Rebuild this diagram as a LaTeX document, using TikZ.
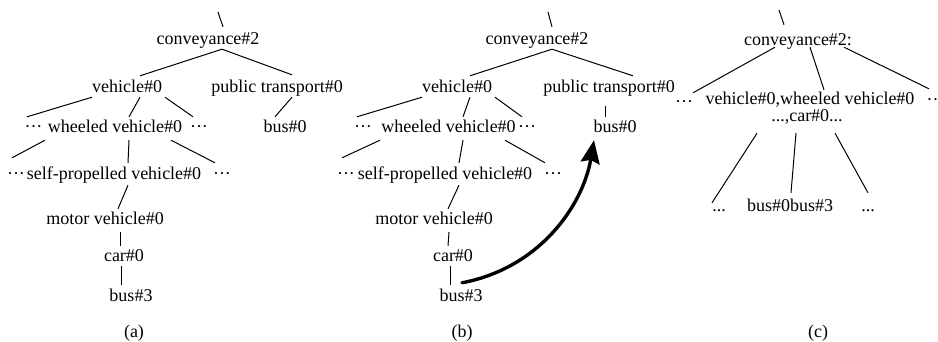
\documentclass[tikz,border=0pt]{standalone}
\usepackage{fontspec}
\setmainfont{Liberation Serif}
\usetikzlibrary{calc,arrows.meta}
\begin{document}
\begin{tikzpicture}[x=1pt,y=-1pt,
  every node/.style={inner sep=0pt, text height=11pt, text depth=3pt,
    font=\fontsize{18}{21}\selectfont},
  edge/.style={line width=1pt},
  jump/.style={line width=3.4pt, line cap=round,
    -{Stealth[length=23pt,width=19pt,inset=3pt]}}]
\useasboundingbox (0,0) rectangle (938,341);

% ---------- tree (a) ----------
\coordinate (top_a) at (218,12);
\node (conv_a) at (208,40) {conveyance\#2};
\node (veh_a)  at (127,88) {vehicle\#0};
\node (pt_a)   at (277,88) {public transport\#0};
\node (dl_a)   at (33.5,128) {···};
\node (wv_a)   at (115,128) {wheeled vehicle\#0};
\node (dr_a)   at (199,128) {···};
\node (bus0_a) at (285,128) {bus\#0};
\node (dl2_a)  at (16,175) {···};
\node (spv_a)  at (114,175) {self-propelled vehicle\#0};
\node (dr2_a)  at (222,175) {···};
\node (mv_a)   at (105,220) {motor vehicle\#0};
\node (car_a)  at (124,257) {car\#0};
\node (bus3_a) at (131,297) {bus\#3};
\node (cap_a)  at (134,333) {(a)};

\draw[edge] (top_a) -- ($(conv_a.north)+(15,-6)$);
\draw[edge] ($(conv_a.south)+(14,2)$) -- ($(veh_a.north)+(13,-5)$);
\draw[edge] ($(conv_a.south)+(14,2)$) -- ($(pt_a.north)+(15,-6)$);
\draw[edge] ($(veh_a.south)+(-35,2)$) -- ($(dl_a.north)+(-6.5,-4)$);
\draw[edge] ($(veh_a.south)+(13,2)$) -- ($(wv_a.north)+(14,-4)$);
\draw[edge] ($(veh_a.south)+(38,2)$) -- ($(dr_a.north)+(-6,-4)$);
\draw[edge] ($(pt_a.south)+(15,2)$) -- ($(bus0_a.north)+(-10,-4)$);
\draw[edge] ($(wv_a.south)+(-70,5)$) -- ($(dl2_a.north)+(-4,-10)$);
\draw[edge] ($(wv_a.south)+(14,5)$) -- ($(spv_a.north)+(14,-5)$);
\draw[edge] ($(wv_a.south)+(56,5)$) -- ($(dr2_a.north)+(-7,-5)$);
\draw[edge] ($(spv_a.south)+(14,3)$) -- ($(mv_a.north)+(13,-4)$);
\draw[edge] ($(mv_a.south)+(15,5)$) -- ($(car_a.north)+(-4,-4)$);
\draw[edge] ($(car_a.south)+(-3,2)$) -- ($(bus3_a.north)+(-10,-5)$);

% ---------- tree (b) ----------
\coordinate (top_b) at (548,12);
\node (conv_b) at (537,40) {conveyance\#2};
\node (veh_b)  at (457,88) {vehicle\#0};
\node (pt_b)   at (609,88) {public transport\#0};
\node (dl_b)   at (363,128) {···};
\node (wv_b)   at (448.5,128) {wheeled vehicle\#0};
\node (dr_b)   at (527,128) {···};
\node (bus0_b) at (615,128) {bus\#0};
\node (dl2_b)  at (346,175) {···};
\node (spv_b)  at (445,175) {self-propelled vehicle\#0};
\node (dr2_b)  at (553,175) {···};
\node (mv_b)   at (434,220) {motor vehicle\#0};
\node (car_b)  at (453,257) {car\#0};
\node (bus3_b) at (461,297) {bus\#3};
\node (cap_b)  at (462,333) {(b)};

\draw[edge] (top_b) -- ($(conv_b.north)+(15,-6)$);
\draw[edge] ($(conv_b.south)+(15,2)$) -- ($(veh_b.north)+(13,-5)$);
\draw[edge] ($(conv_b.south)+(15,2)$) -- ($(pt_b.north)+(24,-5)$);
\draw[edge] ($(veh_b.south)+(-35,2)$) -- ($(dl_b.north)+(-6,-4)$);
\draw[edge] ($(veh_b.south)+(13,2)$) -- ($(wv_b.north)+(14.5,-4)$);
\draw[edge] ($(veh_b.south)+(38,2)$) -- ($(dr_b.north)+(-5,-4)$);
\draw[edge] ($(pt_b.south)+(-4,11)$) -- ($(bus0_b.north)+(-10,-4)$);
\draw[edge] ($(wv_b.south)+(-68.5,5)$) -- ($(dl2_b.north)+(-4,-10)$);
\draw[edge] ($(wv_b.south)+(14.5,5)$) -- ($(spv_b.north)+(14,-5)$);
\draw[edge] ($(wv_b.south)+(56.5,5)$) -- ($(dr2_b.north)+(-8,-5)$);
\draw[edge] ($(spv_b.south)+(14,3)$) -- ($(mv_b.north)+(14,-4)$);
\draw[edge] ($(mv_b.south)+(15,5)$) -- ($(car_b.north)+(-5,-4)$);
\draw[edge] ($(car_b.south)+(-3,2)$) -- ($(bus3_b.north)+(-11,-5)$);

% the move of bus#3 under public transport
\draw[jump] ($(bus3_b.north)+(1,-7)$) .. controls (540,268) and (583,205) .. ($(bus0_b.south)+(-21,5)$);

% ---------- merged tree (c) ----------
\coordinate (top_c) at (779,10);
\node (conv_c) at (798,41)  {conveyance\#2:};
\node (dl_c)   at (684,103) {···};
\node (vn_c)   at (810,100) {vehicle\#0,wheeled vehicle\#0};
\node (dr_c)   at (932.5,101) {··};
\node (car_c)  at (807,117) {...,car\#0...};
\node (dlb_c)  at (719,207) {...};
\node (bb_c)   at (790,207) {bus\#0bus\#3};
\node (drb_c)  at (868,207) {...};
\node (cap_c)  at (818,333) {(c)};

\draw[edge] (top_c) -- ($(conv_c.north)+(-14,-9)$);
\draw[edge] ($(conv_c.south)+(-23,-1)$) -- ($(dl_c.north)+(9,-3)$);
\draw[edge] ($(conv_c.south)+(12,-1)$) -- ($(vn_c.north)+(14,-3)$);
\draw[edge] ($(conv_c.south)+(46,-1)$) -- ($(dr_c.north)+(-3.5,-5)$);
\draw[edge] ($(car_c.south)+(-50,9)$) -- ($(dlb_c.north)+(-7,3)$);
\draw[edge] ($(car_c.south)+(-11,9)$) -- ($(bb_c.north)+(1,-7)$);
\draw[edge] ($(car_c.south)+(28,9)$) -- ($(drb_c.north)+(0,-7)$);
\end{tikzpicture}
\end{document}
